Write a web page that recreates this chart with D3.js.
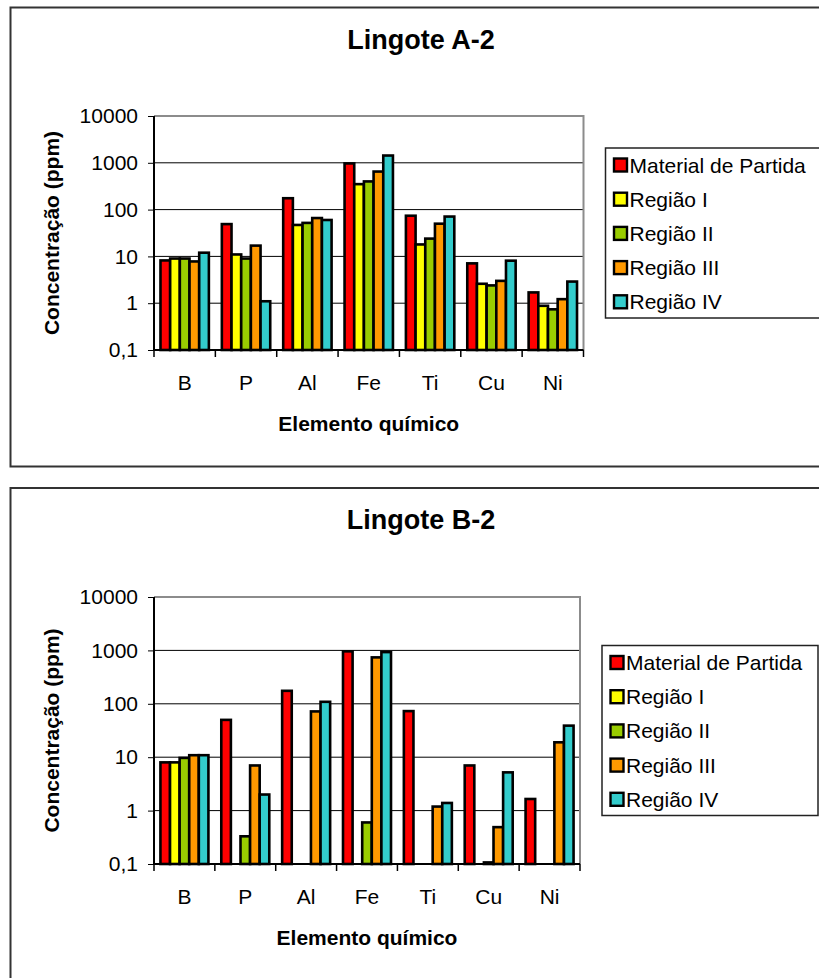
<!DOCTYPE html>
<html lang="pt">
<head>
<meta charset="utf-8">
<title>Lingotes A-2 e B-2</title>
<script src="https://cdn.jsdelivr.net/npm/d3@7"></script>
<style>
  body { margin: 0; background: #fff; }
  svg { display: block; font-family: "Liberation Sans", Arial, sans-serif; }
  .axis text { font-size: 21px; fill: #000; }
  .axis path { display: none; }
  .axis line { stroke: #000; }
</style>
</head>
<body>
<script>
// categorias e séries
var elements = ["B", "P", "Al", "Fe", "Ti", "Cu", "Ni"];
var seriesNames = ["Material de Partida", "Região I", "Região II", "Região III", "Região IV"];
var seriesColors = ["#ff0000", "#ffff00", "#99cc00", "#ff9900", "#33cccc"];
var yTicks = [0.1, 1, 10, 100, 1000, 10000];

// Lingote A-2 (ppm)
var a2Material = [8.2, 49, 175, 970, 74, 7.1, 1.7];
var a2Regiao1  = [9, 11, 47, 350, 18, 2.6, 0.88];
var a2Regiao2  = [9, 9, 52, 400, 24, 2.4, 0.74];
var a2Regiao3  = [7.8, 17, 66, 650, 50, 3.0, 1.22];
var a2Regiao4  = [12, 1.1, 60, 1430, 71, 8.1, 2.9];

// Lingote B-2 (ppm), null = sem valor
var b2Material = [8, 50, 175, 960, 73, 7.0, 1.65];
var b2Regiao1  = [8, null, null, null, null, null, null];
var b2Regiao2  = [9.7, 0.33, null, 0.6, null, 0.107, null];
var b2Regiao3  = [10.9, 7.0, 72, 740, 1.19, 0.49, 19];
var b2Regiao4  = [10.9, 2.0, 109, 930, 1.39, 5.2, 39];

var svg = d3.select("body").append("svg")
  .attr("width", 819)
  .attr("height", 978);

drawChart({
  title: "Lingote A-2",
  series: [a2Material, a2Regiao1, a2Regiao2, a2Regiao3, a2Regiao4],
  boxTop: 7.5, boxBottom: 466.5,
  plot: {left: 154, right: 583.5, top: 116, bottom: 350},
  legendLeft: 605.5
});

drawChart({
  title: "Lingote B-2",
  series: [b2Material, b2Regiao1, b2Regiao2, b2Regiao3, b2Regiao4],
  boxTop: 488, boxBottom: 1000,
  plot: {left: 154, right: 580, top: 597, bottom: 864},
  legendLeft: 602
});

function drawChart(cfg) {
  var p = cfg.plot;
  var g = svg.append("g");

  // moldura do gráfico
  g.append("rect")
    .attr("x", 10.5).attr("y", cfg.boxTop)
    .attr("width", 840).attr("height", cfg.boxBottom - cfg.boxTop)
    .attr("fill", "#fff").attr("stroke", "#333").attr("stroke-width", 2);

  g.append("text")
    .attr("x", 421).attr("y", cfg.boxTop + 41)
    .attr("text-anchor", "middle")
    .attr("font-size", "27px").attr("font-weight", "bold")
    .text(cfg.title);

  var y = d3.scaleLog().domain([0.1, 10000]).range([p.bottom, p.top]);
  var x0 = d3.scaleBand().domain(elements).range([p.left, p.right]).padding(0);
  var x1 = d3.scaleBand().domain(d3.range(seriesNames.length))
    .range([0, x0.bandwidth()]).paddingInner(0).paddingOuter(0.67);

  // grade
  g.selectAll(".grid")
    .data(yTicks.slice(1, -1))
    .enter().append("line")
    .attr("x1", p.left).attr("x2", p.right)
    .attr("y1", function(d) { return y(d); })
    .attr("y2", function(d) { return y(d); })
    .attr("stroke", "#000").attr("stroke-width", 1);

  // borda superior e direita (cinza)
  g.append("path")
    .attr("d", "M" + p.left + "," + p.top + "H" + p.right + "V" + p.bottom)
    .attr("fill", "none").attr("stroke", "#8c8c8c").attr("stroke-width", 2);

  // barras
  var bars = [];
  cfg.series.forEach(function(vals, s) {
    vals.forEach(function(v, i) {
      if (v != null) bars.push({el: elements[i], s: s, v: v});
    });
  });
  g.selectAll(".bar")
    .data(bars)
    .enter().append("rect")
    .attr("x", function(d) { return x0(d.el) + x1(d.s); })
    .attr("y", function(d) { return y(d.v); })
    .attr("width", x1.bandwidth())
    .attr("height", function(d) { return y(0.1) - y(d.v); })
    .attr("fill", function(d) { return seriesColors[d.s]; })
    .attr("stroke", "#000").attr("stroke-width", 2.6);

  // eixo y
  g.append("g")
    .attr("class", "axis")
    .attr("transform", "translate(" + p.left + ",0)")
    .call(d3.axisLeft(y).tickValues(yTicks).tickSize(6).tickPadding(10)
      .tickFormat(function(d) { return d < 1 ? "0,1" : d; }));
  g.append("line")
    .attr("x1", p.left).attr("x2", p.left)
    .attr("y1", p.top).attr("y2", p.bottom)
    .attr("stroke", "#000").attr("stroke-width", 2);

  // eixo x
  g.append("g")
    .attr("class", "axis")
    .attr("transform", "translate(0," + p.bottom + ")")
    .call(d3.axisBottom(x0).tickSize(0).tickPadding(25));
  g.selectAll(".xtick")
    .data(elements.concat(["end"]))
    .enter().append("line")
    .attr("x1", function(d, i) { return p.left + i * x0.step(); })
    .attr("x2", function(d, i) { return p.left + i * x0.step(); })
    .attr("y1", p.bottom).attr("y2", p.bottom + 7)
    .attr("stroke", "#000").attr("stroke-width", 1.5);
  g.append("line")
    .attr("x1", p.left).attr("x2", p.right)
    .attr("y1", p.bottom).attr("y2", p.bottom)
    .attr("stroke", "#000").attr("stroke-width", 2);

  // títulos dos eixos
  g.append("text")
    .attr("x", (p.left + p.right) / 2).attr("y", p.bottom + 81)
    .attr("text-anchor", "middle")
    .attr("font-size", "21px").attr("font-weight", "bold")
    .text("Elemento químico");
  g.append("text")
    .attr("transform", "translate(59," + (p.top + p.bottom) / 2 + ") rotate(-90)")
    .attr("text-anchor", "middle")
    .attr("font-size", "21px").attr("font-weight", "bold")
    .text("Concentração (ppm)");

  // legenda
  var lh = 170;
  var ly = (p.top + p.bottom) / 2 - lh / 2;
  var leg = g.append("g").attr("transform", "translate(" + cfg.legendLeft + "," + ly + ")");
  leg.append("rect")
    .attr("width", 216).attr("height", lh)
    .attr("fill", "#fff").attr("stroke", "#222").attr("stroke-width", 1.5);
  var item = leg.selectAll(".item")
    .data(seriesNames)
    .enter().append("g")
    .attr("transform", function(d, i) { return "translate(0," + (17 + i * 34.2) + ")"; });
  item.append("rect")
    .attr("x", 8.5).attr("y", -6.5).attr("width", 13).attr("height", 13)
    .attr("fill", function(d, i) { return seriesColors[i]; })
    .attr("stroke", "#000").attr("stroke-width", 2.4);
  item.append("text")
    .attr("x", 24).attr("y", 7.5)
    .attr("font-size", "21px")
    .text(function(d) { return d; });
}
</script>
</body>
</html>
